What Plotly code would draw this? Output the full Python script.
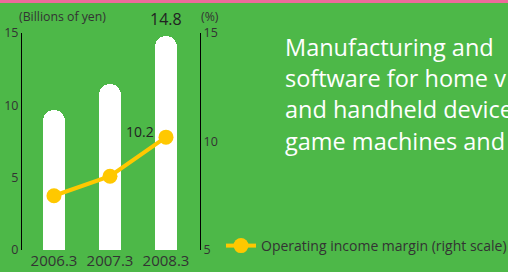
import plotly.graph_objects as go

categories = ["2006.3", "2007.3", "2008.3"]
sales = [9.7, 11.5, 14.8]          # Billions of yen (left scale)
margin = [7.5, 8.4, 10.2]           # Operating income margin % (right scale)
left_ticks = [0, 5, 10, 15]
right_ticks = [5, 10, 15]
desc_lines = [
    "Manufacturing and",
    "software for home v",
    "and handheld device",
    "game machines and",
]

GREEN = "#4DB848"
YELLOW = "#FFC800"
DARK = "#333333"
W, H = 508, 272
L, R, T, B = 22, 308, 33, 22
plot_w = W - L - R
plot_h = H - T - B
xpos = list(range(len(categories)))

fig = go.Figure()
fig.add_trace(go.Bar(
    x=xpos, y=sales, width=0.393,
    marker=dict(color="white", line=dict(width=0), cornerradius="50%"),
    showlegend=False, hoverinfo="skip",
))
fig.add_trace(go.Scatter(
    x=xpos, y=margin, yaxis="y2", mode="lines+markers",
    name="Operating income margin (right scale)",
    line=dict(color=YELLOW, width=4),
    marker=dict(color=YELLOW, size=15),
))

fig.update_layout(
    width=W, height=H,
    margin=dict(l=L, r=R, t=T, b=B, pad=0, autoexpand=False),
    paper_bgcolor=GREEN, plot_bgcolor=GREEN,
    font=dict(family="Open Sans", color=DARK, size=12),
    xaxis=dict(
        range=[-0.571, 2.607], tickvals=xpos, ticktext=categories,
        showgrid=False, zeroline=False, showline=False, ticks="",
        tickfont=dict(size=15), fixedrange=True, automargin=False,
    ),
    yaxis=dict(
        range=[0, 15], tickvals=left_ticks, showgrid=False, zeroline=False,
        showline=True, linecolor="black", linewidth=1, ticks="",
        tickfont=dict(size=12.5), automargin=False,
    ),
    yaxis2=dict(
        range=[5, 15], tickvals=right_ticks, overlaying="y", side="right",
        showgrid=False, zeroline=False, showline=True, linecolor="black",
        linewidth=1, ticks="", tickfont=dict(size=12.5), automargin=False,
    ),
    showlegend=True,
    legend=dict(
        orientation="h", x=(221 - L) / plot_w, xanchor="left",
        y=(250 - 246) / plot_h, yanchor="middle",
        bgcolor="rgba(0,0,0,0)", font=dict(size=14, color=DARK),
    ),
    bargap=0,
)

fig.add_shape(type="rect", xref="paper", yref="paper",
              x0=-L / plot_w, x1=(W - L) / plot_w,
              y0=1 + (T - 3) / plot_h, y1=1 + T / plot_h + 0.01,
              fillcolor="#EE6A9B", line=dict(width=0), layer="above")

fig.add_annotation(x=2, y=sales[2], xref="x", yref="y", text=f"{sales[2]}",
                   showarrow=False, yanchor="bottom", yshift=4,
                   font=dict(size=16, color="#222222"))
fig.add_annotation(x=2, y=margin[2], xref="x", yref="y2", text=f"{margin[2]}",
                   showarrow=False, xanchor="right", xshift=-10, yshift=6,
                   font=dict(size=14, color="#222222"))

fig.add_annotation(x=(17 - L) / plot_w, y=1 + (T - 16) / plot_h, xref="paper", yref="paper",
                   text="(Billions of yen)", showarrow=False, xanchor="left",
                   yanchor="middle", font=dict(size=12.3, color=DARK))
fig.add_annotation(x=(199 - L) / plot_w, y=1 + (T - 16) / plot_h, xref="paper", yref="paper",
                   text="(%)", showarrow=False, xanchor="left",
                   yanchor="middle", font=dict(size=12.3, color=DARK))

line_y = [47, 78, 109, 141]
for txt, py in zip(desc_lines, line_y):
    fig.add_annotation(x=(283 - L) / plot_w, y=1 - (py - T) / plot_h,
                       xref="paper", yref="paper", text=txt, showarrow=False,
                       xanchor="left", yanchor="middle",
                       font=dict(size=23.5, color="white"))

fig.write_html("out.html", config={"displayModeBar": False},
               post_script="document.body.style.margin='0';document.body.style.overflow='hidden';")
